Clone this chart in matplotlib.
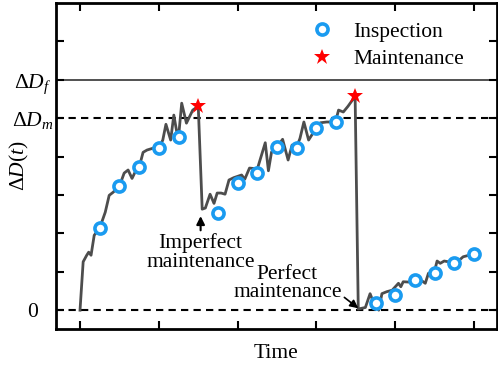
import matplotlib
matplotlib.use("Agg")
import matplotlib.pyplot as plt

plt.rcParams['font.family'] = ['Liberation Serif', 'DejaVu Serif']
plt.rcParams['mathtext.fontset'] = 'custom'
plt.rcParams['mathtext.rm'] = 'Liberation Serif'
plt.rcParams['mathtext.it'] = 'Liberation Serif:italic'

# Degradation path
t_path = [0, 0.04, 0.085, 0.11, 0.14, 0.18, 0.25, 0.32, 0.37, 0.42, 0.5, 0.56, 0.61, 0.66,
          0.70, 0.75, 0.80, 0.85, 0.93, 1.0, 1.05, 1.09, 1.15, 1.19, 1.23, 1.25, 1.29, 1.35,
          1.43, 1.5, 1.55, 1.59, 1.65, 1.70, 1.74, 1.79, 1.84, 1.89, 1.95, 2.05, 2.09, 2.15,
          2.25, 2.35, 2.39, 2.43, 2.5, 2.57, 2.64, 2.69, 2.74, 2.79, 2.84, 2.90, 2.94, 3.0,
          3.05, 3.13, 3.24, 3.28, 3.34, 3.40, 3.49, 3.53, 3.62, 3.68, 3.72, 3.79, 3.83, 3.89,
          3.96, 4.04, 4.07, 4.10, 4.19, 4.29, 4.34, 4.38, 4.42, 4.49, 4.53, 4.57, 4.62, 4.70,
          4.80, 4.86, 4.99]
d_path = [0, 1.26, 1.43, 1.51, 1.43, 1.95, 2.14, 2.55, 2.99, 3.07, 3.23, 3.57, 3.65, 3.43,
          3.60, 3.72, 4.11, 4.17, 4.22, 4.22, 4.43, 4.84, 4.43, 5.08, 4.61, 4.51, 5.39, 4.87,
          5.21, 5.31, 2.63, 2.66, 3.02, 2.78, 3.05, 3.05, 3.02, 3.39, 3.45, 3.52, 3.41, 3.70,
          3.68, 4.36, 3.63, 4.12, 4.25, 4.45, 3.91, 4.30, 4.21, 4.47, 4.90, 4.43, 4.56, 4.73,
          4.88, 4.90, 4.90, 5.21, 5.16, 5.31, 5.57, 0.03, 0.07, 0.43, 0.22, 0.0, 0.43, 0.48,
          0.52, 0.70, 0.61, 0.74, 0.73, 0.65, 0.76, 0.70, 0.96, 0.96, 1.28, 1.22, 1.28, 1.25,
          1.28, 1.39, 1.46]

# Inspections
t_insp = [0.25, 0.5, 0.75, 1.0, 1.25, 1.75, 2.0, 2.25, 2.5, 2.75, 3.0, 3.25,
          3.75, 4.0, 4.25, 4.5, 4.75, 5.0]
d_insp = [2.14, 3.23, 3.72, 4.22, 4.51, 2.53, 3.31, 3.57, 4.24, 4.22, 4.74, 4.90,
          0.18, 0.39, 0.78, 0.96, 1.22, 1.46]

# Maintenance
t_maint = [1.5, 3.49]
d_maint = [5.31, 5.57]

D_f = 6
D_m = 5
y_ticks = [0, 1, 2, 3, 4, 5, 6, 7]
y_ticklabels = ['0', '', '', '', '', r'$\Delta D_m$', r'$\Delta D_f$', '']
x_ticks = [0, 1, 2, 3, 4, 5]

fig = plt.figure(figsize=(4.98, 3.68), dpi=100)
ax = fig.add_axes([0.1124, 0.106, 0.8856, 0.886])

ax.axhline(D_f, color='#222222', lw=1.1, zorder=1)
ax.axhline(D_m, color='black', lw=1.5, ls=(0, (3.5, 2.5)), zorder=1)
ax.axhline(0, color='black', lw=1.5, ls=(0, (3.5, 2.5)), zorder=1)

ax.plot(t_path, d_path, color='#4d4d4d', lw=2, zorder=2)
ax.plot(t_insp, d_insp, 'o', ms=8, mfc='white', mec='#1a9bf0', mew=2.6, zorder=3,
        label='Inspection', ls='none')
ax.plot(t_maint, d_maint, '*', ms=12, color='#ff0000', mew=0, zorder=4, label='Maintenance',
        ls='none')

ax.set_xlim(-0.305, 5.29)
ax.set_ylim(-0.49, 8.0)
ax.set_xticks(x_ticks)
ax.set_xticklabels([])
ax.set_yticks(y_ticks)
ax.set_yticklabels(y_ticklabels, fontsize=15.5)
ax.tick_params(direction='in', length=6, width=1.5, top=True, right=True)
ax.tick_params(axis='y', pad=17)
for lbl in ax.get_yticklabels():
    lbl.set_ha('center')
for s in ax.spines.values():
    s.set_linewidth(2)

ax.set_ylabel(r'$\Delta D(t)$', fontsize=15.5)
ax.yaxis.set_label_coords(-0.057, 0.5)
ax.set_xlabel('Time', fontsize=15.5)
ax.xaxis.set_label_coords(0.5, -0.045)

ax.annotate('Imperfect\nmaintenance', xy=(1.53, 2.45), xytext=(1.53, 1.50),
            ha='center', va='center', fontsize=15.5, linespacing=1.0,
            arrowprops=dict(arrowstyle='-|>', color='black', lw=1.5, mutation_scale=12,
                            shrinkA=0, shrinkB=0, relpos=(0.5, 1.0)),
            zorder=5)
ax.annotate('Perfect\nmaintenance', xy=(3.53, 0.05), xytext=(2.63, 0.70),
            ha='center', va='center', fontsize=15.5, linespacing=0.95,
            arrowprops=dict(arrowstyle='-|>', color='black', lw=1.2, mutation_scale=12,
                            shrinkA=0, shrinkB=0, relpos=(1.0, 0.18)),
            zorder=5)

ax.legend(loc='upper left', bbox_to_anchor=(0.5655, 0.943), frameon=False, fontsize=15.5,
          handletextpad=0.74, borderaxespad=0, borderpad=0, labelspacing=0.36,
          handlelength=1.5)

fig.savefig('out.png', dpi=100)
